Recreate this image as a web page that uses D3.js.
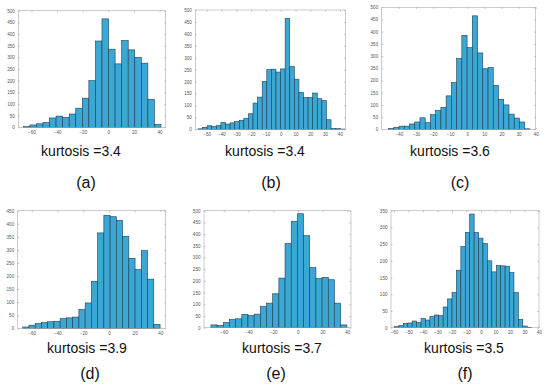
<!DOCTYPE html>
<html>
<head>
<meta charset="utf-8">
<script src="https://cdn.jsdelivr.net/npm/d3@7"></script>
<style>
html,body{margin:0;padding:0;background:#fff;}
svg{display:block;}
</style>
</head>
<body>
<svg id="chart" width="550" height="385"></svg>
<script>
// ---- data ----
const panelIds = ["a","b","c","d","e","f"];
const kurtosisLabels = ["kurtosis =3.4","kurtosis =3.4","kurtosis =3.6","kurtosis =3.9","kurtosis =3.7","kurtosis =3.5"];
const binStarts = [-66.4, -55.9, -46, -67, -70.4, -59.6];
const binWidths = [5.12, 3.1, 3.06, 4.85, 5.0, 3.05];
const countsA = [3,10,15,20,40,48,42,57,82,125,200,370,465,335,272,372,332,300,275,120,12];
const countsB = [2,8,15,12,15,28,22,27,32,38,46,65,110,135,200,250,252,240,253,465,263,210,155,133,133,152,128,120,40,4,3,1];
const countsC = [3,8,13,13,22,30,47,27,60,77,90,137,192,290,385,335,465,313,248,253,180,123,100,62,46,30,2];
const countsD = [5,12,18,22,25,27,37,40,43,72,97,180,365,432,427,413,352,268,225,297,188,15];
const countsE = [12,10,22,35,38,57,52,58,90,105,145,212,360,455,487,393,257,210,215,205,105,12];
const countsF = [3,7,13,14,20,15,27,23,33,38,36,62,86,105,172,243,285,340,285,268,252,200,167,186,185,184,165,105,25,5,1];
const allCounts = [countsA,countsB,countsC,countsD,countsE,countsF];
const xDomains = [[-70.3,44.8],[-57.7,43.9],[-50,40],[-70.9,44.1],[-76,43],[-62,40]];
const yMax = [500,500,500,450,500,350];
const xTickVals = [
  [-60,-40,-20,0,20,40],
  [-50,-40,-30,-20,-10,0,10,20,30,40],
  [-40,-30,-20,-10,0,10,20,30,40],
  [-60,-40,-20,0,20,40],
  [-60,-40,-20,0,20,40],
  [-60,-50,-40,-30,-20,-10,0,10,20,30,40]
];
const yTickStep = 50;

// ---- layout ----
const boxes = [
  {l:18.3, r:165.7, t:10.7, b:127.3, kx:81, ky:156, lx:86, ly:188},
  {l:195.3, r:345.7, t:10, b:129.3, kx:265, ky:156, lx:271, ly:188},
  {l:381.7, r:535.7, t:7.3, b:129.3, kx:450, ky:156, lx:460, ly:188},
  {l:17.7, r:165.7, t:210.7, b:328.3, kx:87, ky:353, lx:90, ly:379},
  {l:204, r:351, t:210.7, b:327.7, kx:282, ky:353, lx:276, ly:379},
  {l:391, r:539, t:210.7, b:327.7, kx:464, ky:353, lx:465, ly:379}
];

const svg = d3.select("#chart");
const font = "'Liberation Sans', Arial, sans-serif";

panelIds.forEach((id, i) => {
  const bx = boxes[i];
  const x = d3.scaleLinear().domain(xDomains[i]).range([bx.l, bx.r]);
  const y = d3.scaleLinear().domain([0, yMax[i]]).range([bx.b, bx.t]);
  const g = svg.append("g");
  const counts = allCounts[i];
  const bins = counts.map((c, k) => ({x0: binStarts[i] + k*binWidths[i], x1: binStarts[i] + (k+1)*binWidths[i], c}));

  // bars
  g.selectAll("rect.bar").data(bins).join("rect")
    .attr("class","bar")
    .attr("x", d => x(d.x0))
    .attr("width", d => x(d.x1) - x(d.x0))
    .attr("y", d => y(d.c))
    .attr("height", d => y(0) - y(d.c))
    .attr("fill", "#3ba7d4")
    .attr("stroke", "#1d3f52")
    .attr("stroke-width", 0.6);

  const yTicks = d3.range(0, yMax[i] + 1, yTickStep);
  // axes
  const xAx = d3.axisBottom(x).tickValues(xTickVals[i]).tickSize(-1.5).tickPadding(3.5).tickFormat(d3.format("d"));
  const xAxTop = d3.axisTop(x).tickValues(xTickVals[i]).tickSize(-1.5).tickFormat("");
  const yAx = d3.axisLeft(y).tickValues(yTicks).tickSize(-1.5).tickPadding(3.5).tickFormat(d3.format("d"));
  const yAxR = d3.axisRight(y).tickValues(yTicks).tickSize(-1.5).tickFormat("");

  const ax = [
    g.append("g").attr("transform", `translate(0,${bx.b})`).call(xAx),
    g.append("g").attr("transform", `translate(0,${bx.t})`).call(xAxTop),
    g.append("g").attr("transform", `translate(${bx.l},0)`).call(yAx),
    g.append("g").attr("transform", `translate(${bx.r},0)`).call(yAxR)
  ];
  ax.forEach(a => {
    a.select(".domain").remove();
    a.selectAll("line").attr("stroke", "#777").attr("stroke-width", 0.5);
    a.selectAll("text").attr("fill", "#555").attr("font-size", "4.6px").attr("font-family", font);
  });

  // frame
  g.append("rect")
    .attr("x", bx.l).attr("y", bx.t)
    .attr("width", bx.r - bx.l).attr("height", bx.b - bx.t)
    .attr("fill", "none").attr("stroke", "#aaa").attr("stroke-width", 0.6);

  // texts
  svg.append("text").attr("x", bx.kx).attr("y", bx.ky)
    .attr("text-anchor","middle").attr("font-family", font).attr("font-size","14px").attr("fill","#111")
    .text(kurtosisLabels[i]);
  svg.append("text").attr("x", bx.lx).attr("y", bx.ly)
    .attr("text-anchor","middle").attr("font-family", font).attr("font-size","16px").attr("fill","#111")
    .text("(" + id + ")");
});
</script>
</body>
</html>
